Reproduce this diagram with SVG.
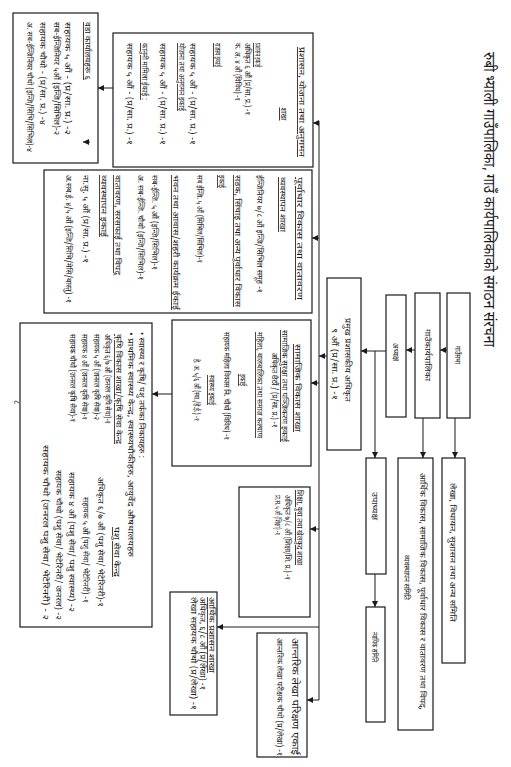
<svg xmlns="http://www.w3.org/2000/svg" width="511" height="767" viewBox="0 0 511 767">
<defs>
<marker id="ah" markerWidth="6" markerHeight="6" refX="6" refY="3" orient="auto" markerUnits="userSpaceOnUse"><path d="M0,0 L6,3 L0,6 z" fill="#1a1a1a"/></marker>
</defs>
<style>
.bx{fill:none;stroke:#1a1a1a;stroke-width:1.2}
.cn{fill:none;stroke:#1a1a1a;stroke-width:1;marker-end:url(#ah)}
.ln{fill:none;stroke:#1a1a1a;stroke-width:1}
text{font-family:"Noto Sans Devanagari","Lohit Devanagari","Mukta","Noto Sans",sans-serif;fill:#1a1a1a}
.s{font-size:8px}
.m{font-size:8.5px}
.b{font-size:9.5px}
.h{font-size:16px}
.u{text-decoration:underline}
.c{text-anchor:middle}
</style>
<rect width="511" height="767" fill="#fff"/>
<g transform="translate(511,0) rotate(90)">
<g id="title"><text class="h" x="52" y="27.5" textLength="295" lengthAdjust="spacingAndGlyphs">रुबी भ्याली गाउँपालिका, गाउँ कार्यपालिकाको संगठन संरचना</text></g>

<g id="connectors">
<path class="cn" d="M350,64 L350,71"/>
<path class="cn" d="M350,96 L350,105"/>
<path class="cn" d="M351,125 L351,150"/>
<path class="cn" d="M351,136 L458,136"/>
<path class="cn" d="M574,136 L607,136"/>
<path class="cn" d="M418,56 L458,56"/>
<path class="cn" d="M418,88 L458,88"/>
<path class="cn" d="M356,184 L356,192"/>
<path class="ln" d="M121,192 L700,192"/>
<path class="cn" d="M123,192 L123,198"/>
<path class="cn" d="M238,192 L238,199"/>
<path class="cn" d="M383,192 L383,200"/>
<path class="cn" d="M529,192 L529,201"/>
<path class="cn" d="M627,192 L627,294"/>
<path class="cn" d="M700,192 L700,204"/>
<path class="cn" d="M88,398 L88,413"/>
<path class="cn" d="M394,339 L394,359"/>
<path class="cn" d="M142,421 L142,428"/>
</g>

<g id="n-sabha"><rect class="bx" x="293" y="41" width="125" height="23"/><text class="m c" x="355" y="55.8" textLength="18" lengthAdjust="spacingAndGlyphs">गाउँसभा</text></g>
<g id="n-karyapalika"><rect class="bx" x="293" y="71" width="125" height="25"/><text class="m c" x="355" y="86" textLength="52" lengthAdjust="spacingAndGlyphs">गाउँकार्यपालिका</text></g>
<g id="n-adhyaksha"><rect class="bx" x="295" y="105" width="122" height="20"/><text class="m c" x="352" y="118" textLength="18" lengthAdjust="spacingAndGlyphs">अध्यक्ष</text></g>
<g id="n-cao"><rect class="bx" x="278" y="150" width="172" height="34"/>
<text class="m c" x="360" y="166" textLength="84" lengthAdjust="spacingAndGlyphs">प्रमुख प्रशासकीय अधिकृत</text>
<text class="s c" x="364" y="178.8" textLength="72" lengthAdjust="spacingAndGlyphs">९ औं (प्र/सा. प्र.) -१</text></g>
<g id="n-upadhyaksha"><rect class="bx" x="458" y="125" width="116" height="20"/><text class="m c" x="506" y="139" textLength="28" lengthAdjust="spacingAndGlyphs">उपाध्यक्ष</text></g>
<g id="n-nyayik"><rect class="bx" x="607" y="126" width="115" height="19"/><text class="m c" x="647" y="139" textLength="30" lengthAdjust="spacingAndGlyphs">न्यायिक समिति</text></g>
<g id="n-lekha-samiti"><rect class="bx" x="458" y="46" width="205" height="23"/><text class="m" x="483" y="61" textLength="139" lengthAdjust="spacingAndGlyphs">लेखा, विधायन, सुशासन तथा अन्य समिति</text></g>
<g id="n-arthik-samiti"><rect class="bx" x="458" y="78" width="272" height="35"/>
<text class="m" x="473" y="91" textLength="237" lengthAdjust="spacingAndGlyphs">आर्थिक विकास, सामाजिक विकास, पूर्वाधार विकास र वातावरण तथा विपद्,</text>
<text class="m" x="555" y="107" textLength="45" lengthAdjust="spacingAndGlyphs">व्यवस्थापन समिति</text></g>

<g id="n-prashasan"><rect class="bx" x="33" y="198" width="134" height="200"/>
<text class="m u" x="47" y="212" textLength="110" lengthAdjust="spacingAndGlyphs">प्रशासन, योजना तथा अनुगमन</text>
<text class="m u c" x="114" y="230" textLength="13" lengthAdjust="spacingAndGlyphs">शाखा</text>
<text class="s u" x="43" y="256" textLength="24" lengthAdjust="spacingAndGlyphs">प्रशासन इकाई</text>
<text class="s" x="43" y="266" textLength="72" lengthAdjust="spacingAndGlyphs">अधिकृत ६ औं (प्र/सा. प्र.) -१</text>
<text class="s" x="43" y="276" textLength="58" lengthAdjust="spacingAndGlyphs">क. अ. ४ औं (विविध) -१</text>
<text class="s u" x="43" y="296" textLength="24" lengthAdjust="spacingAndGlyphs">राजस्व इकाई</text>
<text class="s" x="43" y="321" textLength="102" lengthAdjust="spacingAndGlyphs">सहायक ५ औं - (प्र/सा. प्र.) -१</text>
<text class="s u" x="43" y="332" textLength="68" lengthAdjust="spacingAndGlyphs">योजना तथा अनुगमन इकाई</text>
<text class="s" x="43" y="351" textLength="102" lengthAdjust="spacingAndGlyphs">सहायक ५ औं - (प्र/सा. प्र.) -१</text>
<text class="s u" x="43" y="369" textLength="57" lengthAdjust="spacingAndGlyphs">कानुनी मामिला ईकाई :</text>
<text class="s" x="43" y="384" textLength="102" lengthAdjust="spacingAndGlyphs">सहायक ५ औं - (प्र/सा. प्र.) -१</text></g>

<g id="n-wada"><rect class="bx" x="13" y="413" width="150" height="85"/>
<text class="s u" x="22" y="426" textLength="58" lengthAdjust="spacingAndGlyphs">वडा कार्यालयहरू ६</text>
<text class="s" x="22" y="446" textLength="113" lengthAdjust="spacingAndGlyphs">सहायक ५ औं - (प्र/सा. प्र.) -२</text>
<text class="s" x="22" y="457" textLength="113" lengthAdjust="spacingAndGlyphs">सब-ईन्जिनियर ५औं (इन्जि/सिभिल)-२</text>
<text class="s" x="22" y="471" textLength="103" lengthAdjust="spacingAndGlyphs">सहायक चौथो - (प्र/सा. प्र.) -४</text>
<text class="s" x="22" y="484" textLength="130" lengthAdjust="spacingAndGlyphs">अ. सब-ईन्जिनियर चौथो (इन्जि/सिभि/सिभिल)-४</text></g>

<g id="n-purwadhar"><rect class="bx" x="170" y="199" width="143" height="268"/>
<text class="m u" x="177" y="214" textLength="123" lengthAdjust="spacingAndGlyphs">पूर्वाधार विकास तथा वातावरण</text>
<text class="m u" x="177" y="231" textLength="55" lengthAdjust="spacingAndGlyphs">व्यवस्थापन शाखा</text>
<text class="s" x="175" y="254" textLength="118" lengthAdjust="spacingAndGlyphs">ईन्जिनियर ७/८ औं इन्जि/सिभिल समूह -१</text>
<text class="s u" x="175" y="276" textLength="132" lengthAdjust="spacingAndGlyphs">सडक, सिंचाइ तथा अन्य पूर्वाधार विकास</text>
<text class="s u" x="175" y="292" textLength="13" lengthAdjust="spacingAndGlyphs">इकाई</text>
<text class="s" x="175" y="314" textLength="88" lengthAdjust="spacingAndGlyphs">सब ईन्जि. ५ औं (सिभिल/सिभिल)-१</text>
<text class="s u" x="175" y="338" textLength="135" lengthAdjust="spacingAndGlyphs">भवन तथा आवास/शहरी कार्यक्रम ईकाई</text>
<text class="s" x="175" y="359" textLength="95" lengthAdjust="spacingAndGlyphs">सब-ईन्जि. ५ औं (इन्जि/सिभिल)-१</text>
<text class="s" x="175" y="373" textLength="105" lengthAdjust="spacingAndGlyphs">अ. सब-ईन्जि. चौथो (इन्जि/सिभिल)-१</text>
<text class="s u" x="175" y="396" textLength="100" lengthAdjust="spacingAndGlyphs">वातावरण, सरसफाई तथा विपद्</text>
<text class="s u" x="175" y="410" textLength="62" lengthAdjust="spacingAndGlyphs">व्यवस्थापन इकाई</text>
<text class="s" x="175" y="428" textLength="88" lengthAdjust="spacingAndGlyphs">ना.सु. ५ औं (प्र/सा. प्र.) -१</text>
<text class="s" x="175" y="445" textLength="128" lengthAdjust="spacingAndGlyphs">अ.सब.ई. ४/५ औं (इन्जि/सिभि/मेसि/बास्तु) -१</text></g>

<g id="n-samajik"><rect class="bx" x="320" y="200" width="146" height="139"/>
<text class="m u c" x="388" y="216" textLength="88" lengthAdjust="spacingAndGlyphs">सामाजिक विकास शाखा</text>
<text class="s u c" x="386" y="229" textLength="112" lengthAdjust="spacingAndGlyphs">सामाजिक सुरक्षा तथा पञ्जिकरण इकाई</text>
<text class="s c" x="390" y="239" textLength="75" lengthAdjust="spacingAndGlyphs">अधिकृत छैठौं / (प्र/सा. प्र.) -१</text>
<text class="s u c" x="385" y="254" textLength="106" lengthAdjust="spacingAndGlyphs">महिला, बालबालिका तथा समाज कल्याण</text>
<text class="s u c" x="380" y="271" textLength="12" lengthAdjust="spacingAndGlyphs">इकाई</text>
<text class="s c" x="386" y="287" textLength="108" lengthAdjust="spacingAndGlyphs">सहायक महिला विकास नि. चौथो (विविध) -१</text>
<text class="s u c" x="390" y="302" textLength="30" lengthAdjust="spacingAndGlyphs">स्वास्थ्य इकाई</text>
<text class="s c" x="390" y="317" textLength="62" lengthAdjust="spacingAndGlyphs">हे. अ. ५/६ औं (स्वा./हे.ई.) -१</text></g>

<g id="n-shiksha"><rect class="bx" x="487" y="201" width="130" height="71"/>
<text class="m u" x="490" y="214" textLength="75" lengthAdjust="spacingAndGlyphs">शिक्षा, युवा तथा खेलकुद शाखा</text>
<text class="s" x="495" y="226" textLength="85" lengthAdjust="spacingAndGlyphs">अधिकृत ७/८ औं (शिक्षा/शि. प्र.) -१</text>
<text class="s" x="495" y="236" textLength="40" lengthAdjust="spacingAndGlyphs">प्रा.स. ५ औं (शिक्षा) -१</text></g>

<g id="n-arthik-prashasan"><rect class="bx" x="592" y="294" width="123" height="47"/>
<text class="s u" x="597" y="302" textLength="76" lengthAdjust="spacingAndGlyphs">आर्थिक प्रशासन शाखा</text>
<text class="s" x="597" y="311" textLength="93" lengthAdjust="spacingAndGlyphs">अधिकृत, ६/८ औं (प्र/लेखा) -१</text>
<text class="s" x="597" y="320" textLength="113" lengthAdjust="spacingAndGlyphs">लेखा सहायक चौथो (प्र/लेखा) -१</text></g>

<g id="n-antarik"><rect class="bx" x="633" y="204" width="124" height="50"/>
<text class="b" x="638" y="219.5" textLength="117" lengthAdjust="spacingAndGlyphs">आन्तरिक लेखा परिक्षण एकाई</text>
<text class="s" x="638" y="234" textLength="118" lengthAdjust="spacingAndGlyphs">आन्तरिक लेखा परीक्षक चौथो (प्र/लेखा) -१</text></g>

<g id="n-krishi"><rect class="bx" x="323" y="359" width="304" height="132"/>
<text class="s" x="332" y="372" textLength="126" lengthAdjust="spacingAndGlyphs">• स्वास्थ्य र कृषि/ पशु तर्फका निकायहरु :</text>
<text class="s" x="332" y="383" textLength="225" lengthAdjust="spacingAndGlyphs">• प्राथमिक स्वास्थ्य केन्द्र, स्वास्थ्यचौकीहरु, आयुर्वेद औषधालयहरु</text>
<text class="s u" x="334" y="395" textLength="110" lengthAdjust="spacingAndGlyphs">कृषि विकास शाखा/कृषि सेवा केन्द्र</text>
<text class="s" x="334" y="406" textLength="90" lengthAdjust="spacingAndGlyphs">अधिकृत ६/७ औं (जनरल कृषि सेवा)-१</text>
<text class="s" x="334" y="417" textLength="86" lengthAdjust="spacingAndGlyphs">सहायक ५ औं (जनरल कृषि सेवा)-२</text>
<text class="s" x="334" y="429" textLength="86" lengthAdjust="spacingAndGlyphs">सहायक ४ औं (जनरल कृषि सेवा)-१</text>
<text class="s" x="334" y="441" textLength="88" lengthAdjust="spacingAndGlyphs">सहायक चौथो (जनरल कृषि सेवा)-१</text>
<text class="s u" x="527" y="397" textLength="50" lengthAdjust="spacingAndGlyphs">पशु सेवा केन्द्र</text>
<text class="s" x="477" y="413" textLength="130" lengthAdjust="spacingAndGlyphs">अधिकृत ६/७ औं (पशु सेवा/ भेटेरिनरी)-१</text>
<text class="s" x="497" y="428" textLength="106" lengthAdjust="spacingAndGlyphs">सहायक ५ औं (पशु सेवा/ भेटेरिनरी) -१</text>
<text class="s" x="472" y="442" textLength="140" lengthAdjust="spacingAndGlyphs">सहायक ४ औं (पशु सेवा/ पशु स्वास्थ्य) -२</text>
<text class="s" x="470" y="455" textLength="150" lengthAdjust="spacingAndGlyphs">सहायक चौथो (पशु सेवा/ भेटेरिनरी/ जनरल) -२</text>
<text class="s" x="445" y="468" textLength="175" lengthAdjust="spacingAndGlyphs">सहायक चौथो (जनरल पशु सेवा/ भेटेरिनरी) - २</text></g>

<g id="page-no"><text class="m" x="400" y="497">८</text></g>
</g>
</svg>
